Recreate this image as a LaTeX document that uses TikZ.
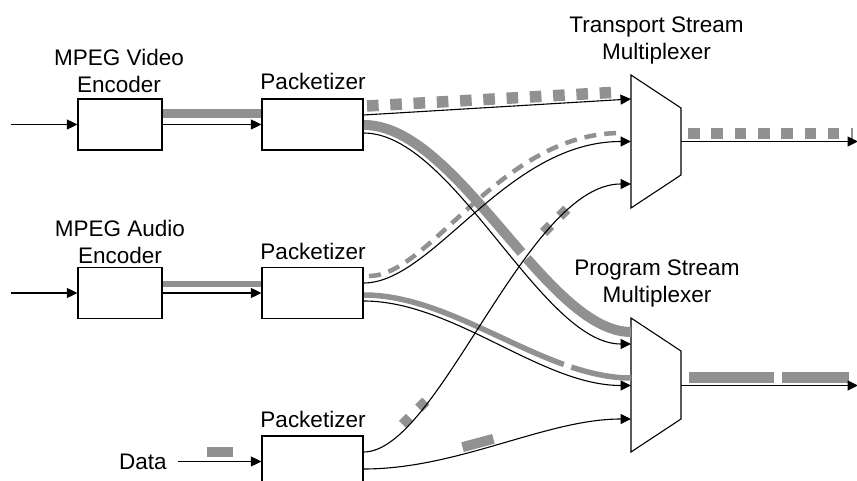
\documentclass[tikz,border=0pt]{standalone}
\usepackage{fontspec}
\setmainfont{Liberation Sans}
\usetikzlibrary{arrows.meta}
\definecolor{pktgray}{gray}{0.57}

\begin{document}
\begin{tikzpicture}[x=1pt,y=-1pt,
	box/.style={draw,line width=1.2pt,minimum width=101pt,minimum height=51pt,inner sep=0pt},
	encbox/.style={box,minimum width=84pt},
	lbl/.style={font=\fontsize{22.5}{27}\selectfont,align=center,inner sep=0pt},
	wire/.style={line width=1.1pt},
	arr/.style={wire,-{Triangle[length=10.5pt,width=10pt]}},
	band/.style={pktgray,line width=10pt},
	thinband/.style={pktgray,line width=5.5pt},
	sqdash/.style={pktgray,line width=11.5pt,dash pattern=on 11.6pt off 11.7pt},
	diadash/.style={pktgray,line width=10pt,dash pattern=on 10pt off 13pt}]
	\useasboundingbox (0,0) rectangle (857,481);

	% encoders and packetizers
	\node[encbox] (venc) at (120,124.5) {};
	\node[box] (vpack) at (312.5,124.5) {};
	\node[encbox] (aenc) at (120,293) {};
	\node[box] (apack) at (312.5,293) {};
	\node[box] (dpack) at (312.5,461.5) {};

	\node[lbl,anchor=center] (venclbl) at (119,71) {MPEG Video\\Encoder};
	\node[lbl,anchor=center] (aenclbl) at (120,241.5) {MPEG Audio\\Encoder};
	\node[lbl,anchor=center] (vpacklbl) at (313,81) {Packetizer};
	\node[lbl,anchor=center] (apacklbl) at (313,251.7) {Packetizer};
	\node[lbl,anchor=center] (dpacklbl) at (313,419.2) {Packetizer};
	\node[lbl,inner xsep=11pt,anchor=center] (data) at (143,461.5) {Data};

	% multiplexers
	\draw[wire] (631,75) -- (681,108) -- (681,175) -- (631,208) -- cycle;
	\node[lbl,anchor=center] (tslbl) at (656.5,40.3) {Transport Stream\\Multiplexer};
	\coordinate (ts1) at (631,99);
	\coordinate (ts2) at (631,141.5);
	\coordinate (ts3) at (631,184);
	\coordinate (tsout) at (681,141.5);
	\coordinate (tsend) at (858,141.5);

	\draw[wire] (631,318) -- (681,351) -- (681,419) -- (631,452) -- cycle;
	\node[lbl,anchor=center] (pslbl) at (657,283.7) {Program Stream\\Multiplexer};
	\coordinate (ps1) at (631,344);
	\coordinate (ps2) at (631,385.5);
	\coordinate (ps3) at (631,419);
	\coordinate (psout) at (681,385.5);
	\coordinate (psend) at (858,385.5);

	% packet streams
	\draw[band,line width=9.5pt] ([yshift=11pt]venc.east) -- ([yshift=11pt]vpack.west);
	\draw[thinband] ([yshift=9pt]aenc.east) -- ([yshift=9pt]apack.west);
	\fill[pktgray] (207,447) rectangle (233,457);

	\draw[sqdash] (367,106) -- (611,92.5);
	\draw[band,dash pattern=on 208pt off 8pt on 400pt] (364,125) .. controls (458,125) and (546,332) .. (631,332);
	\draw[pktgray,line width=4.5pt,dash pattern=on 12pt off 8pt] (369,276) .. controls (430,276) and (500,133) .. (621,133);
	\draw[thinband,dash pattern=on 213pt off 8pt on 200pt] (364,295) .. controls (455,295) and (544,378) .. (631,378);
	\draw[diadash] (402.5,424.5) -- (427,400);
	\draw[diadash] (543.5,232.5) -- (568,208);
	\fill[pktgray,rotate around={15:(478,443)}] (462,438) rectangle (494,448);

	\draw[sqdash] (688,133.5) -- (853,133.5);
	\draw[pktgray,line width=11pt,dash pattern=on 85pt off 8pt] (689,377.5) -- (849,377.5);

	% inputs
	\coordinate (vin) at (11,124.5);
	\coordinate (ain) at (11,293);
	\draw[arr] (vin) -- (venc);
	\draw[arr] (venc) -- (vpack);
	\draw[arr] (ain) -- (aenc);
	\draw[arr] (aenc) -- (apack);
	\draw[arr] (data) -- (dpack);

	% packetizers to multiplexers
	\draw[arr] ([yshift=9.5pt]vpack.east) -- (ts1);
	\draw[arr] ([yshift=-8.5pt]vpack.east) .. controls +(90,0) and +(-90,0) .. (ps1);
	\draw[arr] ([yshift=10pt]apack.east) .. controls +(70,0) and +(-125,0) .. (ts2);
	\draw[arr] ([yshift=-8pt]apack.east) .. controls +(90,0) and +(-90,0) .. (ps2);
	\draw[arr] ([yshift=9.5pt]dpack.east) .. controls +(75,0) and +(-105,0) .. (ts3);
	\draw[arr] ([yshift=-7.5pt]dpack.east) .. controls +(95,0) and +(-85,0) .. (ps3);

	% outputs
	\draw[arr] (tsout) -- (tsend);
	\draw[arr] (psout) -- (psend);
\end{tikzpicture}
\end{document}
